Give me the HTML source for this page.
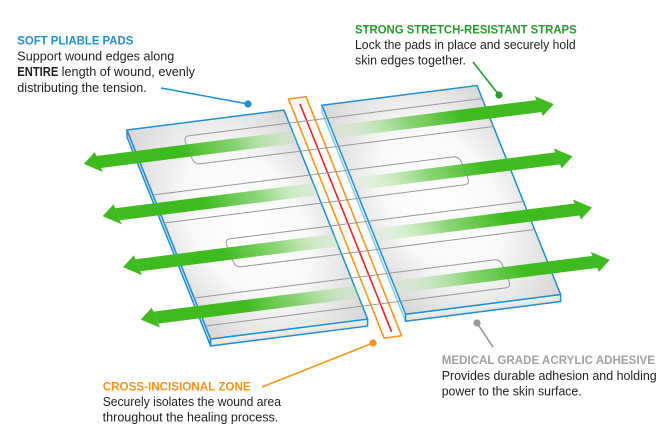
<!DOCTYPE html>
<html>
<head>
<meta charset="utf-8">
<style>
  html,body{margin:0;padding:0;background:#ffffff;}
  svg{display:block;}
  text{font-family:"Liberation Sans",Arial,sans-serif;}
  .t{font-weight:bold;font-size:12px;}
  .b{font-size:12.5px;fill:#231f20;}
</style>
</head>
<body>
<svg width="669" height="444" viewBox="0 0 669 444" xmlns="http://www.w3.org/2000/svg">
  <defs>
    <radialGradient id="padg" cx="0.5" cy="0.5" r="0.7">
      <stop offset="0" stop-color="#ffffff"/>
      <stop offset="0.5" stop-color="#f8f8f8"/>
      <stop offset="1" stop-color="#d6d6d6"/>
    </radialGradient>
    <linearGradient id="frontg" x1="0" y1="0" x2="0" y2="1">
      <stop offset="0" stop-color="#f6f6f6"/>
      <stop offset="1" stop-color="#dedede"/>
    </linearGradient>
    <linearGradient id="gl" gradientUnits="userSpaceOnUse" x1="45" y1="0" x2="178" y2="0">
      <stop offset="0" stop-color="#3fbb1f" stop-opacity="1"/>
      <stop offset="0.4" stop-color="#70cb56" stop-opacity="0.8"/>
      <stop offset="1" stop-color="#c8ecbc" stop-opacity="0"/>
    </linearGradient>
    <linearGradient id="gr" gradientUnits="userSpaceOnUse" x1="185" y1="0" x2="325" y2="0">
      <stop offset="0" stop-color="#c8ecbc" stop-opacity="0"/>
      <stop offset="0.6" stop-color="#70cb56" stop-opacity="0.8"/>
      <stop offset="1" stop-color="#3fbb1f" stop-opacity="1"/>
    </linearGradient>
  </defs>

  <g transform="matrix(1,-0.127,0.4,1,127,130)">
    <!-- LEFT PAD -->
    <polygon points="0,0 0,209 -2.66,215.66 -2.66,6.66" fill="#dcdcdc" stroke="#1f8fd1" stroke-width="1.5" vector-effect="non-scaling-stroke" stroke-linejoin="round"/>
    <polygon points="0,209 157,209 154.34,215.66 -2.66,215.66" fill="url(#frontg)" stroke="#1f8fd1" stroke-width="1.5" vector-effect="non-scaling-stroke" stroke-linejoin="round"/>
    <rect x="0" y="0" width="157" height="209" fill="url(#padg)" stroke="#1f8fd1" stroke-width="1.5" vector-effect="non-scaling-stroke"/>

    <!-- RIGHT PAD -->
    <polygon points="195,0 195,209 192.34,215.66 192.34,6.66" fill="#eef6fa" stroke="#8ccbe8" stroke-width="1.5" vector-effect="non-scaling-stroke" stroke-linejoin="round"/>
    <polygon points="195,209 350,209 347.34,215.66 192.34,215.66" fill="url(#frontg)" stroke="#1f8fd1" stroke-width="1.5" vector-effect="non-scaling-stroke" stroke-linejoin="round"/>
    <rect x="195" y="0" width="155" height="209" fill="url(#padg)" stroke="#1f8fd1" stroke-width="1.5" vector-effect="non-scaling-stroke"/>

    <!-- CROSS-INCISIONAL ZONE -->
    <rect x="165.5" y="-10" width="17.5" height="239" fill="#ffffff" stroke="#f7941d" stroke-width="1.6" vector-effect="non-scaling-stroke"/>
    <line x1="174.5" y1="-4" x2="175" y2="224" stroke="#ee2222" stroke-width="1.6" vector-effect="non-scaling-stroke"/>

    <!-- STRAP OUTLINES -->
    <g fill="none" stroke="#999999" stroke-width="1">
      <path d="M350,13 H57 Q51,13 51,19 V35 Q51,41 57,41 H350" vector-effect="non-scaling-stroke"/>
      <path d="M0,65 H300 Q306,65 306,71 V87 Q306,93 300,93 H0" vector-effect="non-scaling-stroke"/>
      <path d="M350,116 H57 Q51,116 51,122 V138 Q51,144 57,144 H350" vector-effect="non-scaling-stroke"/>
      <path d="M0,168 H300 Q306,168 306,174 V190 Q306,196 300,196 H0" vector-effect="non-scaling-stroke"/>
    </g>

    <!-- GREEN ARROWS LEFT -->
    <g>
      <rect x="-40" y="21" width="218" height="12" fill="url(#gl)"/>
      <polygon points="-54,27 -39,17 -39,37" fill="#3fbb1f"/>
      <rect x="-41" y="73" width="219" height="12" fill="url(#gl)"/>
      <polygon points="-56,79 -41,69 -41,89" fill="#3fbb1f"/>
      <rect x="-41" y="124" width="219" height="12" fill="url(#gl)"/>
      <polygon points="-56,130 -41,120 -41,140" fill="#3fbb1f"/>
      <rect x="-44" y="176" width="222" height="12" fill="url(#gl)"/>
      <polygon points="-59,182 -44,172 -44,192" fill="#3fbb1f"/>
    </g>
    <!-- GREEN ARROWS RIGHT -->
    <g>
      <rect x="185" y="21" width="217" height="12" fill="url(#gr)"/>
      <polygon points="416,27 401,17 401,37" fill="#3fbb1f"/>
      <rect x="185" y="73" width="215" height="12" fill="url(#gr)"/>
      <polygon points="414,79 399,69 399,89" fill="#3fbb1f"/>
      <rect x="185" y="124" width="214" height="12" fill="url(#gr)"/>
      <polygon points="413,130 398,120 398,140" fill="#3fbb1f"/>
      <rect x="185" y="176" width="211" height="12" fill="url(#gr)"/>
      <polygon points="410,182 395,172 395,192" fill="#3fbb1f"/>
    </g>
  </g>

  <!-- LEADER LINES -->
  <line x1="161" y1="88" x2="248" y2="104" stroke="#1f8fd1" stroke-width="1.6"/>
  <circle cx="248" cy="104" r="3.6" fill="#1f8fd1"/>
  <line x1="473" y1="62" x2="499" y2="95" stroke="#2a9a2e" stroke-width="1.6"/>
  <circle cx="499" cy="95" r="3.6" fill="#2a9a2e"/>
  <line x1="262" y1="387" x2="373" y2="343" stroke="#f7941d" stroke-width="1.6"/>
  <circle cx="373" cy="343" r="3.6" fill="#f7941d"/>
  <line x1="477" y1="323" x2="493" y2="347" stroke="#999999" stroke-width="1.6"/>
  <circle cx="477" cy="323" r="3.6" fill="#999999"/>

  <!-- TEXT: SOFT PLIABLE PADS -->
  <text class="t" x="17.3" y="44.3" fill="#1f8fd1" textLength="116" lengthAdjust="spacingAndGlyphs">SOFT PLIABLE PADS</text>
  <text class="b" x="17.3" y="60.4" textLength="157" lengthAdjust="spacingAndGlyphs">Support wound edges along</text>
  <text class="b" x="17.3" y="76.1" font-weight="bold" textLength="41" lengthAdjust="spacingAndGlyphs">ENTIRE</text>
  <text class="b" x="61.7" y="76.1" textLength="133.3" lengthAdjust="spacingAndGlyphs">length of wound, evenly</text>
  <text class="b" x="17.3" y="91.8" textLength="129.4" lengthAdjust="spacingAndGlyphs">distributing the tension.</text>

  <!-- TEXT: STRONG STRETCH-RESISTANT STRAPS -->
  <text class="t" x="355" y="33.3" fill="#2a9a2e" textLength="221.7" lengthAdjust="spacingAndGlyphs">STRONG STRETCH-RESISTANT STRAPS</text>
  <text class="b" x="355" y="49" textLength="220.7" lengthAdjust="spacingAndGlyphs">Lock the pads in place and securely hold</text>
  <text class="b" x="355" y="64.4" textLength="111" lengthAdjust="spacingAndGlyphs">skin edges together.</text>

  <!-- TEXT: CROSS-INCISIONAL ZONE -->
  <text class="t" x="102.7" y="390.7" fill="#f7941d" textLength="148" lengthAdjust="spacingAndGlyphs">CROSS-INCISIONAL ZONE</text>
  <text class="b" x="102.7" y="406" textLength="178.3" lengthAdjust="spacingAndGlyphs">Securely isolates the wound area</text>
  <text class="b" x="102.7" y="421.4" textLength="175.6" lengthAdjust="spacingAndGlyphs">throughout the healing process.</text>

  <!-- TEXT: MEDICAL GRADE ACRYLIC ADHESIVE -->
  <text class="t" x="441.7" y="364" fill="#a0a0a0" textLength="213.3" lengthAdjust="spacingAndGlyphs">MEDICAL GRADE ACRYLIC ADHESIVE</text>
  <text class="b" x="441.7" y="380" textLength="215" lengthAdjust="spacingAndGlyphs">Provides durable adhesion and holding</text>
  <text class="b" x="441.7" y="395.7" textLength="140" lengthAdjust="spacingAndGlyphs">power to the skin surface.</text>
</svg>
</body>
</html>
